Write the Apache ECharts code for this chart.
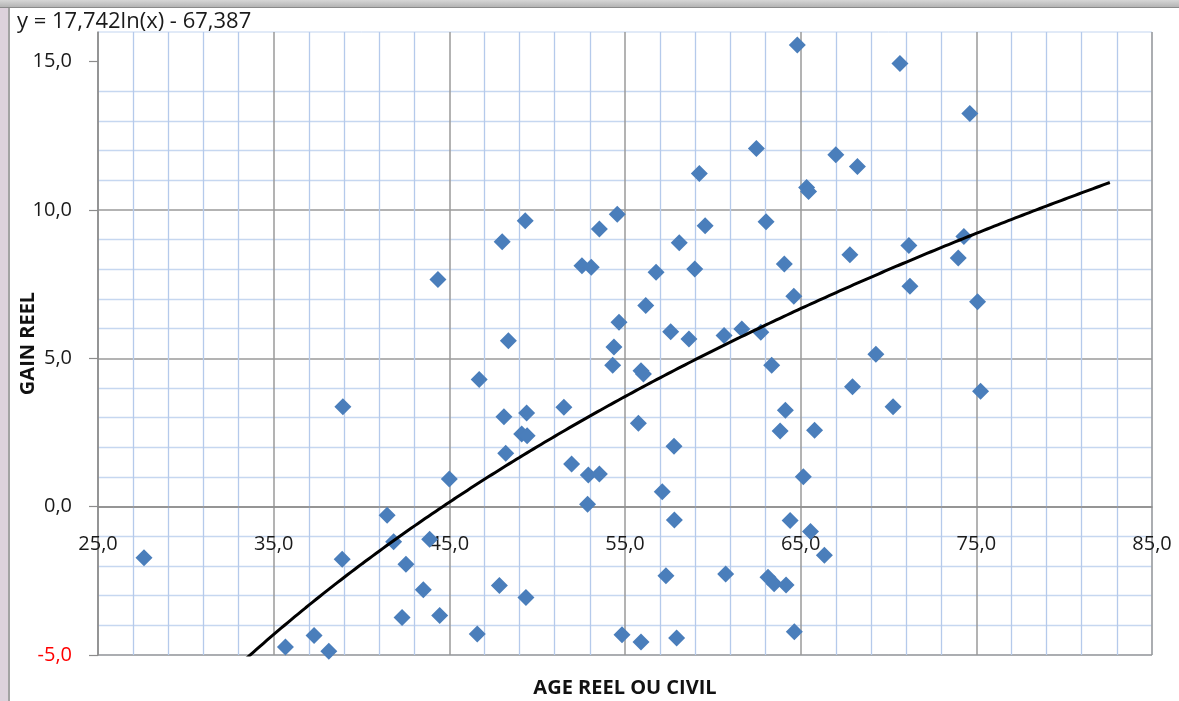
<!DOCTYPE html>
<html>
<head>
<meta charset="utf-8">
<script src="https://cdn.jsdelivr.net/npm/echarts@6/dist/echarts.min.js"></script>
<style>
  html, body { margin: 0; padding: 0; width: 1179px; height: 701px; overflow: hidden; background: #ddd2dc; }
  #topband { position: absolute; left: 0; top: 0; width: 1179px; height: 7px; background: linear-gradient(#d6d6d6, #b4b4b4); border-bottom: 1px solid #8a8a8a; }
  #frame { position: absolute; left: 8px; top: 8px; width: 1171px; height: 693px; background: #ffffff; border-left: 2px solid #a3a3a3; box-sizing: border-box; }
  #chart { position: absolute; left: 0; top: 0; width: 1179px; height: 701px; }
</style>
</head>
<body>
<div id="topband"></div>
<div id="frame"></div>
<div id="chart"></div>
<script>
const xAge = [27.62, 38.94, 38.90, 35.67, 37.30, 38.14, 41.46, 41.83, 42.53, 42.31,
  43.52, 43.88, 44.45, 44.35, 45.00, 46.59, 46.70, 47.85, 48.01, 48.11,
  48.21, 48.36, 49.12, 49.32, 49.43, 49.40, 49.36, 51.52, 51.96, 52.55,
  52.87, 52.91, 53.08, 53.54, 53.54, 54.37, 54.30, 54.56, 54.66, 54.83,
  55.76, 55.91, 56.05, 55.91, 56.18, 56.77, 57.12, 57.33, 57.60, 57.79,
  57.81, 57.94, 58.09, 58.64, 58.97, 59.23, 59.56, 60.64, 60.73, 61.65,
  62.48, 62.73, 63.03, 63.14, 63.35, 63.49, 63.83, 64.07, 64.17, 64.13,
  64.40, 64.61, 64.64, 64.81, 65.15, 65.34, 65.45, 65.56, 65.79, 66.35,
  67.00, 67.80, 67.95, 68.23, 69.28, 70.26, 70.65, 71.16, 71.22, 73.97,
  74.29, 74.63, 75.07, 75.24];
const yGain = [-1.72, 3.37, -1.77, -4.73, -4.34, -4.87, -0.29, -1.18, -1.94, -3.74,
  -2.80, -1.10, -3.67, 7.66, 0.93, -4.29, 4.29, -2.66, 8.93, 3.03,
  1.80, 5.59, 2.45, 9.64, 2.39, 3.16, -3.06, 3.35, 1.44, 8.12,
  0.08, 1.07, 8.07, 1.10, 9.36, 5.38, 4.77, 9.86, 6.22, -4.32,
  2.81, 4.58, 4.47, -4.56, 6.78, 7.90, 0.50, -2.33, 5.90, 2.04,
  -0.45, -4.43, 8.90, 5.65, 8.01, 11.23, 9.47, 5.77, -2.27, 5.99,
  12.07, 5.88, 9.60, -2.38, 4.77, -2.60, 2.55, 8.18, -2.64, 3.25,
  -0.47, 7.09, -4.22, 15.56, 1.01, 10.76, 10.62, -0.84, 2.58, -1.64,
  11.86, 8.49, 4.04, 11.47, 5.14, 3.37, 14.94, 8.80, 7.43, 8.38,
  9.11, 13.25, 6.91, 3.89];

// Logarithmic trendline shown on the chart: y = 17,742 ln(x) - 67,387
const trendSlope = 17.742;
const trendIntercept = -67.387;
const trendFrom = 27.62;
const trendTo = 82.6;
const trendLabel = 'y = 17,742ln(x) - 67,387';

// Axis ticks and titles
const xTicks = [25, 35, 45, 55, 65, 75, 85];
const yTicks = [-5, 0, 5, 10, 15];
const yMin = -5, yMax = 16;
const xTitle = 'AGE REEL OU CIVIL';
const yTitle = 'GAIN REEL';

const points = xAge.map((x, i) => [x, yGain[i]]);
const trend = [];
for (let x = trendFrom; x < trendTo; x += 0.2) {
  trend.push([x, trendSlope * Math.log(x) + trendIntercept]);
}
trend.push([trendTo, trendSlope * Math.log(trendTo) + trendIntercept]);

const fmt = v => v.toFixed(1).replace('.', ',');
const FONT = 'Open Sans';

const chart = echarts.init(document.getElementById('chart'), null, { renderer: 'canvas' });
chart.setOption({
  animation: false,
  backgroundColor: 'transparent',
  grid: {
    left: 98, right: 27, top: 32, bottom: 46,
    outerBoundsMode: 'none', containLabel: false,
    show: true, borderColor: '#c3d5f0', borderWidth: 1, backgroundColor: 'transparent'
  },
  graphic: [{
    type: 'text', left: 17, top: 11, z: 10,
    style: { text: trendLabel, font: '22px "' + FONT + '"', fill: '#1a1a1a' }
  }],
  xAxis: {
    type: 'value', position: 'bottom', min: xTicks[0], max: xTicks[xTicks.length - 1], interval: 10,
    name: xTitle, nameLocation: 'middle', nameGap: 172,
    nameTextStyle: { fontFamily: FONT, fontWeight: 'bold', fontSize: 20, color: '#111' },
    axisLine: { show: true, onZero: false, lineStyle: { color: '#8c8c8c', width: 1.5 } },
    axisTick: { show: false },
    axisLabel: {
      margin: 28, fontFamily: FONT, fontSize: 20, color: '#1a1a1a',
      customValues: xTicks, formatter: v => fmt(v)
    },
    splitLine: { show: true, lineStyle: { color: '#9a9a9a', width: 1.5 } },
    minorTick: { show: false, splitNumber: 5 },
    minorSplitLine: { show: true, lineStyle: { color: '#b5caeb', width: 1.3 } }
  },
  yAxis: {
    type: 'value', min: yMin, max: yMax, interval: 5,
    name: yTitle, nameLocation: 'middle', nameGap: 60, nameRotate: 90, nameMoveOverlap: false,
    nameTextStyle: { fontFamily: FONT, fontWeight: 'bold', fontSize: 20, color: '#111' },
    axisLine: { show: true, onZero: false, lineStyle: { color: '#8c8c8c', width: 1.5 } },
    axisTick: { show: true, length: 9, customValues: yTicks, lineStyle: { color: '#8c8c8c', width: 1.2 } },
    axisLabel: {
      margin: 26, fontFamily: FONT, fontSize: 20,
      customValues: yTicks,
      formatter: v => fmt(v),
      color: v => (Number(v) === -5 ? '#ff0000' : '#1a1a1a')
    },
    splitLine: { show: true, showMaxLine: false, lineStyle: { color: '#9a9a9a', width: 1.5 } },
    minorTick: { show: false, splitNumber: 5 },
    minorSplitLine: { show: true, lineStyle: { color: '#c6d7f0', width: 1.3 } }
  },
  series: [
    {
      type: 'scatter', data: points, symbol: 'diamond', symbolSize: 17,
      itemStyle: { color: '#4a7ebb', opacity: 1 }, z: 3
    },
    {
      type: 'line', data: trend, showSymbol: false, symbol: 'none', smooth: false,
      lineStyle: { color: '#000000', width: 3 }, z: 4, clip: true
    }
  ]
});

// Move the horizontal axis so that it crosses the vertical axis at 0 (as in the original)
const zeroPx = chart.convertToPixel({ yAxisIndex: 0 }, 0);
const bottomPx = chart.convertToPixel({ yAxisIndex: 0 }, yMin);
chart.setOption({ xAxis: { offset: zeroPx - bottomPx } });
</script>
</body>
</html>
